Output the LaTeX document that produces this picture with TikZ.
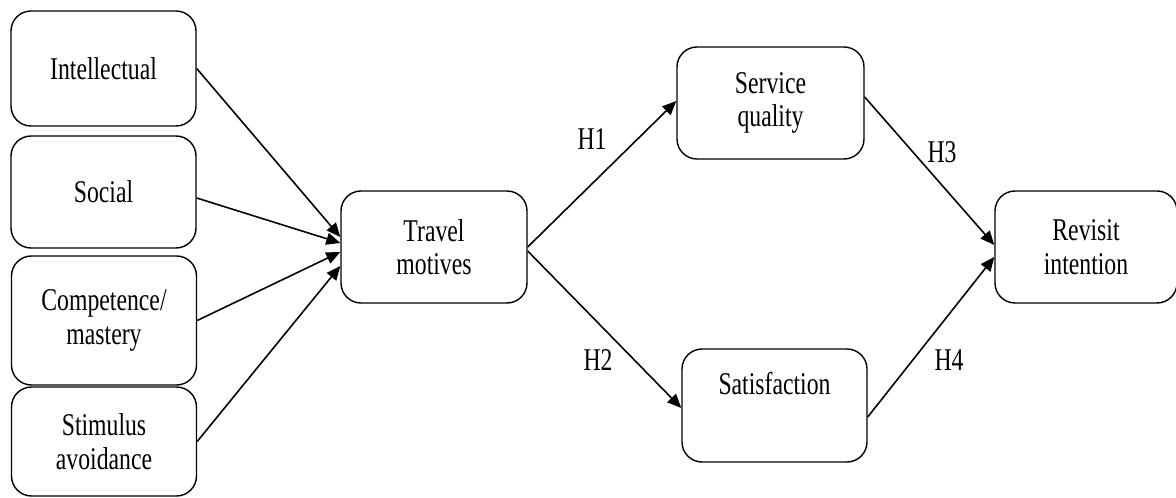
\documentclass[tikz,border=0pt]{standalone}
\usepackage{fontspec}
\setmainfont{Liberation Serif}[FakeStretch=0.75]
\usetikzlibrary{arrows.meta}

\begin{document}
\begin{tikzpicture}[
  box/.style={draw, rounded corners=0.4cm, line width=0.8pt, align=center,
    minimum width=3.72cm, minimum height=2.24cm, font=\fontsize{18}{19}\selectfont},
  hyp/.style={font=\fontsize{18}{19}\selectfont},
  >={Triangle[length=0.28cm,width=0.24cm]}
]
  \useasboundingbox (0,0) rectangle (23.52,9.96);

  % motive dimensions
  \node[box, minimum width=3.7cm, minimum height=2.3cm] (intel) at (2.07,8.59) {Intellectual};
  \node[box, minimum width=3.7cm] (social) at (2.07,6.12) {Social};
  \node[box, minimum width=3.7cm, minimum height=2.58cm] (comp) at (2.08,3.55) {Competence/\\mastery};
  \node[box, minimum width=3.7cm, minimum height=2.18cm] (stim) at (2.08,1.13) {Stimulus\\avoidance};

  % model
  \node[box] (travel) at (8.68,5.02) {Travel\\motives};
  \node[box, minimum width=3.74cm] (service) at (15.41,7.90) {Service\\quality};
  \node[box, minimum width=3.7cm, minimum height=2.26cm] (satis) at (15.49,1.85) {Satisfaction\\\strut};
  \node[box, minimum width=3.64cm] (revisit) at (21.72,5.02) {Revisit\\intention};

  \draw[->, line width=0.9pt] (intel.east) -- ([yshift=0.2cm]travel.west);
  \draw[->, line width=0.9pt] ([yshift=-0.12cm]social.east) -- ([yshift=0.08cm]travel.west);
  \draw[->, line width=0.9pt] (comp.east) -- ([yshift=-0.1cm]travel.west);
  \draw[->, line width=0.9pt] (stim.east) -- ([yshift=-0.38cm]travel.west);

  \draw[->, line width=0.9pt] (travel.east) -- ([yshift=0.04cm]service.west);
  \draw[->, line width=0.9pt] ([yshift=-0.08cm]travel.east) -- ([yshift=-0.05cm]satis.west);
  \draw[->, line width=0.9pt] ([yshift=0.12cm]service.east) -- ([yshift=0.04cm]revisit.west);
  \draw[->, line width=0.9pt] ([yshift=-0.23cm]satis.east) -- ([yshift=-0.2cm]revisit.west);

  \node[hyp] (h1) at (11.84,7.18) {H1};
  \node[hyp] (h2) at (11.96,2.76) {H2};
  \node[hyp] (h3) at (18.84,6.92) {H3};
  \node[hyp] (h4) at (18.98,2.76) {H4};
\end{tikzpicture}
\end{document}
